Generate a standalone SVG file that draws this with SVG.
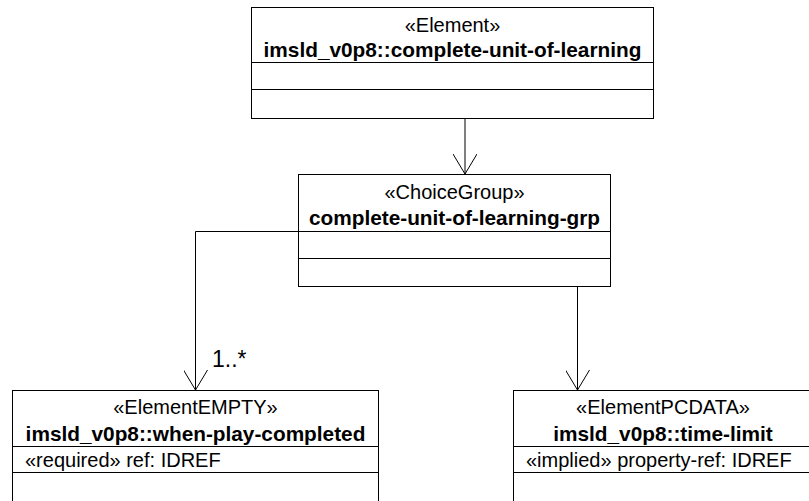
<svg xmlns="http://www.w3.org/2000/svg" width="809" height="501" viewBox="0 0 809 501">
<style>
.box{fill:#fff;stroke:#000;stroke-width:1}
.ln{stroke:#000;stroke-width:1;fill:none}
text{font-family:"Liberation Sans",Arial,sans-serif;font-size:20px;fill:#000}
.c{text-anchor:middle}
.b{font-weight:bold;font-size:20.8px}
</style>
<defs>
<marker id="open" viewBox="0 0 20 24" refX="20" refY="12" markerWidth="20" markerHeight="24" markerUnits="userSpaceOnUse" orient="auto">
<path d="M0,0 L20,12 L0,24" fill="none" stroke="#000" stroke-width="1"/>
</marker>
</defs>
<g id="connectors">
<line class="ln" x1="465" y1="118" x2="465" y2="174" marker-end="url(#open)"/>
<polyline class="ln" points="298,231.5 195.5,231.5 195.5,390" marker-end="url(#open)"/>
<line class="ln" x1="577.5" y1="286" x2="577.5" y2="390" marker-end="url(#open)"/>
<text x="212" y="367" style="font-size:23px">1..*</text>
</g>
<g id="complete-unit-of-learning">
<rect class="box" x="251.5" y="7.5" width="402" height="111"/>
<line class="ln" x1="251.5" y1="62.5" x2="653.5" y2="62.5"/>
<line class="ln" x1="251.5" y1="89.5" x2="653.5" y2="89.5"/>
<text class="c" x="452.5" y="32">«Element»</text>
<text class="c b" x="452.5" y="57">imsld_v0p8::complete-unit-of-learning</text>
</g>
<g id="complete-unit-of-learning-grp">
<rect class="box" x="298.5" y="174.5" width="312" height="112"/>
<line class="ln" x1="298.5" y1="231.5" x2="610.5" y2="231.5"/>
<line class="ln" x1="298.5" y1="258.5" x2="610.5" y2="258.5"/>
<text class="c" x="454.5" y="199">«ChoiceGroup»</text>
<text class="c b" x="454.5" y="225">complete-unit-of-learning-grp</text>
</g>
<g id="when-play-completed">
<rect class="box" x="12.5" y="390.5" width="366" height="130"/>
<line class="ln" x1="12.5" y1="446.5" x2="378.5" y2="446.5"/>
<line class="ln" x1="12.5" y1="472.5" x2="378.5" y2="472.5"/>
<text class="c" x="195.5" y="414">«ElementEMPTY»</text>
<text class="c b" x="195.5" y="441">imsld_v0p8::when-play-completed</text>
<text x="25" y="467">«required» ref: IDREF</text>
</g>
<g id="time-limit">
<rect class="box" x="513.5" y="390.5" width="300" height="130"/>
<line class="ln" x1="513.5" y1="446.5" x2="813.5" y2="446.5"/>
<line class="ln" x1="513.5" y1="472.5" x2="813.5" y2="472.5"/>
<text class="c" x="663" y="414">«ElementPCDATA»</text>
<text class="c b" x="663" y="441">imsld_v0p8::time-limit</text>
<text x="526" y="467">«implied» property-ref: IDREF</text>
</g>
</svg>
